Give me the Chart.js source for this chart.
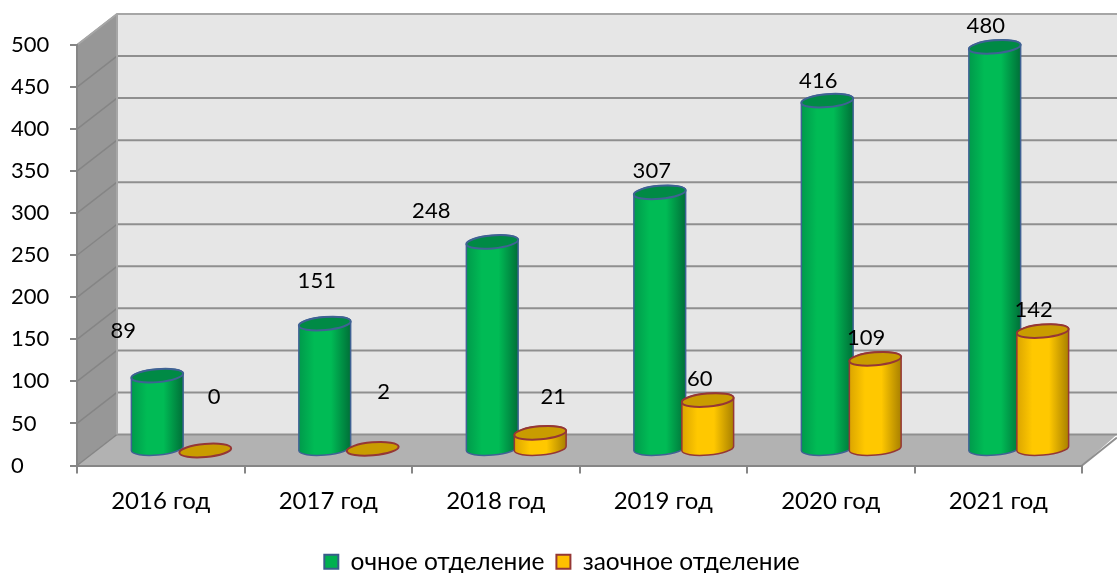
<!DOCTYPE html>
<html><head><meta charset="utf-8">
<style>html,body{margin:0;padding:0;background:#fff}#w{width:1117px;height:573px}</style>
<script src="https://cdn.jsdelivr.net/npm/chart.js@4"></script>
</head><body><div id="w"><canvas id="c" width="1117" height="573"></canvas></div>
<script>
const categories = ['2016 год','2017 год','2018 год','2019 год','2020 год','2021 год'];
const fullTime = [89,151,248,307,416,480];
const partTime = [0,2,21,60,109,142];
const seriesNames = ['очное отделение','заочное отделение'];
const FONT = 'Lato, "Open Sans", sans-serif';
const labelOffsets = [
 [[-34,-45],[-8,-43],[-61,-31],[-8,-21],[-9,-20],[-9,-21]],
 [[9,-54],[11,-57],[13,-36],[-8,-21],[-9,-21],[-9,-21]]
];
const wallDepth = {x:40,y:-31}, barDepth = {x:20.5,y:-15};
const looks = [
 {stops:['#009a4b','#00bb55','#00bb55','#006f38'],top:'#008a45',line:'#3f6294'},
 {stops:['#dba500','#ffc800','#ffc800','#a88000'],top:'#c99c00',line:'#953735'}
];
const RY=6.5, ROT=-5*Math.PI/180;
Chart.BarElement.prototype.draw = function(ctx){
  const {x,y,base,width}=this.getProps(['x','y','base','width']);
  const look = looks[this.$dataset||0];
  const rx=width/2;
  const g=ctx.createLinearGradient(x-rx,0,x+rx,0);
  g.addColorStop(0,look.stops[0]);g.addColorStop(.3,look.stops[1]);
  g.addColorStop(.62,look.stops[2]);g.addColorStop(1,look.stops[3]);
  ctx.save();
  ctx.strokeStyle=look.line;
  if(base-y>1){
    ctx.lineWidth=1.5;
    ctx.beginPath();
    ctx.ellipse(x,base-1,rx,RY,ROT,0,Math.PI,false);
    ctx.ellipse(x,y,rx,RY,ROT,Math.PI,2*Math.PI,false);
    ctx.closePath();
    ctx.fillStyle=g;ctx.fill();ctx.stroke();
  }
  ctx.lineWidth=2;
  ctx.beginPath();ctx.ellipse(x,y,rx,RY,ROT,0,2*Math.PI);
  ctx.fillStyle=look.top;ctx.fill();ctx.stroke();
  ctx.restore();
};
const scene = {
  id:'scene',
  afterLayout(chart){
    const L=chart.legend;
    L.left+=15.5;L.right+=15.5;L.top+=11;L.bottom+=11;
  },
  beforeDraw(chart){
    const {ctx,chartArea:a,scales:{y}}=chart;
    const bx=a.left+wallDepth.x, dy=wallDepth.y, R=chart.width;
    ctx.save();
    const y0=y.getPixelForValue(0), yT=y.getPixelForValue(500);
    ctx.fillStyle='#e6e6e6';ctx.fillRect(bx,yT+dy,R-bx,y0-yT);
    ctx.fillStyle='#979797';ctx.beginPath();
    ctx.moveTo(a.left,yT);ctx.lineTo(bx,yT+dy);ctx.lineTo(bx,y0+dy);ctx.lineTo(a.left,y0);ctx.closePath();ctx.fill();
    ctx.fillStyle='#b2b2b2';ctx.beginPath();
    ctx.moveTo(a.left,y0);ctx.lineTo(bx,y0+dy);ctx.lineTo(R,y0+dy);ctx.lineTo(a.right,y0);ctx.closePath();ctx.fill();
    y.ticks.forEach(t=>{
      const p=y.getPixelForValue(t.value);
      ctx.strokeStyle='#858585';ctx.lineWidth=1.5;
      ctx.beginPath();ctx.moveTo(a.left,p);ctx.lineTo(bx,p+dy);ctx.stroke();
      ctx.strokeStyle='#8f8f8f';ctx.lineWidth=2;
      ctx.beginPath();ctx.moveTo(bx,p+dy);ctx.lineTo(R,p+dy);ctx.stroke();
    });
    ctx.strokeStyle='#a6a6a6';ctx.lineWidth=2;
    ctx.beginPath();ctx.moveTo(a.left,yT);ctx.lineTo(bx,yT+dy);ctx.lineTo(R,yT+dy);ctx.stroke();
    ctx.beginPath();ctx.moveTo(bx,yT+dy);ctx.lineTo(bx,y0+dy);ctx.stroke();
    ctx.strokeStyle='#8f8f8f';
    ctx.beginPath();ctx.moveTo(a.right,y0);ctx.lineTo(R,y0+dy+3);ctx.stroke();
    ctx.restore();
  },
  beforeDatasetsDraw(chart){
    const ctx=chart.ctx;
    ctx.save();ctx.translate(barDepth.x,barDepth.y);
    [0,1].forEach(i=>{
      const m=chart.getDatasetMeta(i);
      m.data.forEach(e=>{e.$dataset=i;});
      m.controller.draw();
    });
    ctx.fillStyle='#000';ctx.font='22px '+FONT;ctx.textAlign='center';ctx.textBaseline='middle';
    [0,1].forEach(i=>{
      chart.getDatasetMeta(i).data.forEach((e,j)=>{
        const o=labelOffsets[i][j];
        ctx.fillText(String(chart.data.datasets[i].data[j]),e.x+o[0],e.y+o[1]);
      });
    });
    ctx.restore();
    return false;
  }
};
new Chart(document.getElementById('c'),{
  type:'bar',
  data:{labels:categories,datasets:[
    {label:seriesNames[0],data:fullTime,backgroundColor:'#00b050',borderColor:'#385d8a',borderWidth:2,categoryPercentage:.573,barPercentage:1.083},
    {label:seriesNames[1],data:partTime,backgroundColor:'#ffc000',borderColor:'#953735',borderWidth:2,categoryPercentage:.573,barPercentage:1.083}
  ]},
  plugins:[scene],
  options:{
    responsive:false,animation:false,
    layout:{autoPadding:false,padding:{left:11,top:45,right:35,bottom:0}},
    plugins:{
      tooltip:{enabled:false},
      legend:{position:'bottom',labels:{boxWidth:14,boxHeight:14,padding:12,color:'#000',font:{family:FONT,size:24.5}}}
    },
    scales:{
      x:{afterFit(s){s.height=61;},
        grid:{drawOnChartArea:false,offset:true,tickLength:8,color:'#868686',lineWidth:2},
        border:{color:'#868686',width:2},
        ticks:{color:'#000',font:{family:FONT,size:24},padding:13,maxRotation:0}},
      y:{min:0,max:500,afterFit(s){s.width=66;},
        grid:{drawOnChartArea:false,tickLength:7,color:'#868686',lineWidth:2},
        border:{color:'#868686',width:2},
        ticks:{stepSize:50,color:'#000',font:{family:FONT,size:22},crossAlign:'far',padding:4}}
    }
  }
});
</script></body></html>
